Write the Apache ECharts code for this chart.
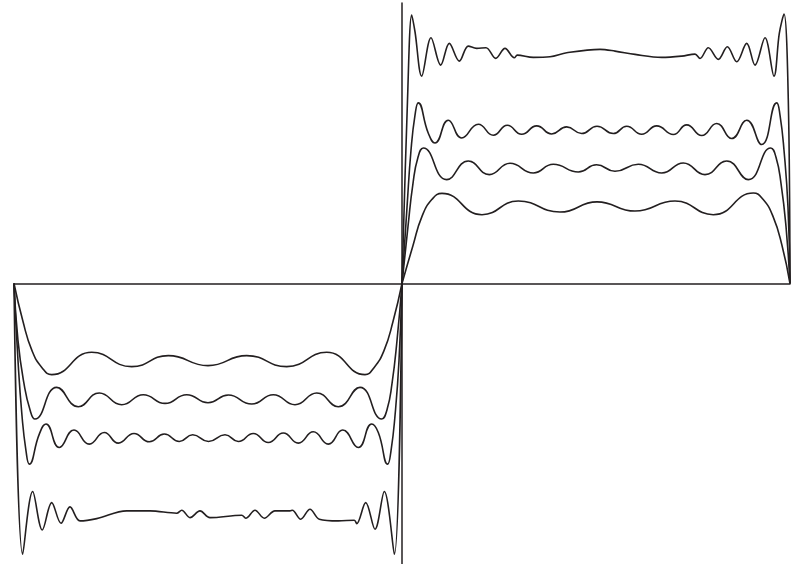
<!DOCTYPE html>
<html>
<head>
<meta charset="utf-8">
<script src="https://cdn.jsdelivr.net/npm/echarts@6/dist/echarts.min.js"></script>
<style>
  html, body { margin: 0; padding: 0; background: #fff; }
  #chart { width: 801px; height: 564px; }
</style>
</head>
<body>
<div id="chart"></div>
<script>
// partial sums of a square wave as [x, y] points
// right half (positive)
var right5 = [[0, 0], [0.11, 0.38], [0.20, 0.67], [0.30, 0.84], [0.40, 0.90],
  [0.80, 0.687], [1.163, 0.823], [1.58, 0.713], [1.95, 0.815], [2.33, 0.723],
  [2.73, 0.823], [3.113, 0.687], [3.513, 0.903], [3.61, 0.84], [3.71, 0.67],
  [3.80, 0.38], [3.88, 0]];
var right9 = [[0, 0], [0.06, 0.57], [0.11, 1.00], [0.16, 1.26], [0.213, 1.353],
  [0.447, 1.037], [0.663, 1.223], [0.873, 1.087], [1.08, 1.20], [1.313, 1.103],
  [1.513, 1.19], [1.763, 1.113], [1.945, 1.185], [2.13, 1.12], [2.363, 1.19],
  [2.597, 1.103], [2.813, 1.203], [3.03, 1.087], [3.247, 1.223], [3.463, 1.037],
  [3.687, 1.353], [3.74, 1.26], [3.79, 1.00], [3.84, 0.57], [3.88, 0]];
var right13 = [[0, 0], [0.05, 0.76], [0.09, 1.33], [0.13, 1.68], [0.163, 1.803],
  [0.263, 1.50], [0.33, 1.403], [0.463, 1.63], [0.597, 1.453], [0.763, 1.59],
  [0.913, 1.48], [1.053, 1.58], [1.197, 1.49], [1.347, 1.573], [1.497, 1.493],
  [1.647, 1.563], [1.797, 1.497], [1.95, 1.57], [2.113, 1.497], [2.247, 1.57],
  [2.397, 1.49], [2.547, 1.573], [2.713, 1.487], [2.847, 1.583], [2.997, 1.477],
  [3.147, 1.597], [3.297, 1.447], [3.447, 1.63], [3.597, 1.387], [3.747, 1.803],
  [3.78, 1.68], [3.82, 1.33], [3.86, 0.76], [3.88, 0]];
var rightMany = [[0, 0], [0.055, 1.83], [0.097, 2.68], [0.13, 2.513], [0.197, 2.07],
  [0.29, 2.453], [0.387, 2.18], [0.473, 2.397], [0.573, 2.22], [0.663, 2.37],
  [0.747, 2.347], [0.84, 2.353], [0.937, 2.247], [1.03, 2.347], [1.123, 2.253],
  [1.153, 2.28], [1.313, 2.257], [1.48, 2.263], [1.647, 2.303], [1.98, 2.337],
  [2.13, 2.32], [2.33, 2.287], [2.597, 2.257], [2.797, 2.27], [2.93, 2.29],
  [2.98, 2.247], [3.063, 2.353], [3.163, 2.237], [3.253, 2.363], [3.347, 2.213],
  [3.447, 2.397], [3.53, 2.18], [3.63, 2.453], [3.72, 2.07], [3.773, 2.497],
  [3.82, 2.69], [3.863, 1.83], [3.88, 0]];

// left half (negative)
var left5 = [[-3.88, 0], [-3.79, -0.38], [-3.70, -0.67], [-3.60, -0.84], [-3.503, -0.91],
  [-3.103, -0.687], [-2.703, -0.83], [-2.337, -0.72], [-1.94, -0.82], [-1.553, -0.72],
  [-1.153, -0.83], [-0.753, -0.687], [-0.37, -0.91], [-0.28, -0.84], [-0.18, -0.67],
  [-0.09, -0.38], [0, 0]];
var left9 = [[-3.88, 0], [-3.84, -0.57], [-3.78, -1.0], [-3.72, -1.26], [-3.67, -1.353],
  [-3.453, -1.037], [-3.237, -1.23], [-3.027, -1.093], [-2.803, -1.21], [-2.587, -1.11],
  [-2.37, -1.197], [-2.153, -1.11], [-1.94, -1.19], [-1.737, -1.113], [-1.503, -1.203],
  [-1.287, -1.11], [-1.07, -1.21], [-0.853, -1.093], [-0.637, -1.23], [-0.42, -1.037],
  [-0.203, -1.353], [-0.15, -1.26], [-0.10, -1.0], [-0.05, -0.57], [0, 0]];
var left13 = [[-3.88, 0], [-3.84, -0.77], [-3.80, -1.32], [-3.76, -1.67], [-3.727, -1.803],
  [-3.627, -1.503], [-3.56, -1.403], [-3.427, -1.637], [-3.28, -1.463], [-3.127, -1.603],
  [-2.977, -1.487], [-2.837, -1.593], [-2.68, -1.497], [-2.527, -1.58], [-2.377, -1.503],
  [-2.227, -1.577], [-2.093, -1.51], [-1.935, -1.577], [-1.77, -1.51], [-1.637, -1.577],
  [-1.487, -1.497], [-1.337, -1.587], [-1.187, -1.493], [-1.037, -1.593], [-0.887, -1.48],
  [-0.737, -1.603], [-0.593, -1.463], [-0.437, -1.637], [-0.303, -1.403], [-0.237, -1.487],
  [-0.143, -1.803], [-0.11, -1.67], [-0.07, -1.32], [-0.03, -0.77], [0, 0]];
var leftMany = [[-3.88, 0], [-3.793, -2.703], [-3.693, -2.077], [-3.597, -2.46],
  [-3.503, -2.187], [-3.41, -2.393], [-3.32, -2.23], [-3.22, -2.37], [-3.053, -2.347],
  [-2.753, -2.27], [-2.52, -2.27], [-2.253, -2.293], [-2.203, -2.263], [-2.12, -2.337],
  [-2.02, -2.27], [-1.92, -2.337], [-1.603, -2.313], [-1.563, -2.343], [-1.47, -2.263],
  [-1.377, -2.343], [-1.27, -2.27], [-1.12, -2.27], [-1.097, -2.263], [-1.013, -2.353],
  [-0.92, -2.253], [-0.827, -2.353], [-0.637, -2.37], [-0.477, -2.363], [-0.453, -2.397],
  [-0.363, -2.187], [-0.27, -2.453], [-0.177, -2.077], [-0.077, -2.703], [0, 0]];

var curves = [
  { data: right5, smooth: 0.5 }, { data: right9, smooth: 0.5 },
  { data: right13, smooth: 0.5 }, { data: rightMany, smooth: 0.35 },
  { data: left5, smooth: 0.5 }, { data: left9, smooth: 0.5 },
  { data: left13, smooth: 0.5 }, { data: leftMany, smooth: 0.35 }
];

var chart = echarts.init(document.getElementById('chart'));

var axisStyle = {
  axisLine: { show: true, onZero: true, lineStyle: { color: '#231f20', width: 1.5 } },
  axisTick: { show: false },
  axisLabel: { show: false },
  splitLine: { show: false }
};

var option = {
  animation: false,
  backgroundColor: '#fff',
  grid: { left: 14, right: 11, top: 3, bottom: 0 },
  xAxis: Object.assign({ type: 'value', min: -3.88, max: 3.88 }, axisStyle),
  yAxis: Object.assign({ type: 'value', min: -2.8, max: 2.8 }, axisStyle),
  series: curves.map(function (c) {
    return {
      type: 'line',
      data: c.data,
      smooth: c.smooth,
      showSymbol: false,
      symbol: 'none',
      lineStyle: { color: '#231f20', width: 1.6 }
    };
  })
};

chart.setOption(option);
</script>
</body>
</html>
